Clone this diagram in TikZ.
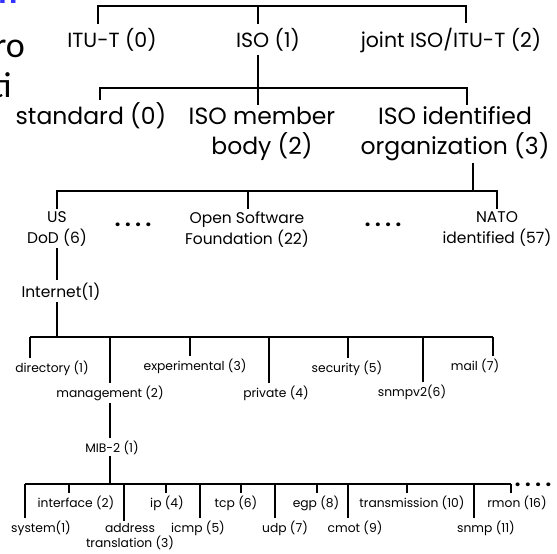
\documentclass[tikz,border=0pt]{standalone}
\usepackage{fontspec}
\setmainfont{Poppins}
\newfontfamily\slidefont{Carlito}
\newcommand{\fourdots}{.\kern4.6pt.\kern4.6pt.\kern4.6pt.}
\tikzset{
  wire/.style={line width=1.1pt},
  lvone/.style={font=\fontsize{20.5}{24}\selectfont, inner sep=4pt},
  lvtwo/.style={font=\fontsize{23.5}{30}\selectfont, inner sep=2pt, align=center},
  lvthree/.style={font=\fontsize{15.5}{21}\selectfont, inner sep=2pt, align=center},
  leaf/.style={font=\fontsize{12.3}{15}\selectfont, inner sep=2pt, align=center},
  dotrow/.style={font=\fontsize{20}{20}\selectfont\bfseries, inner sep=0pt}
}
\begin{document}
\begin{tikzpicture}[x=1pt,y=-1pt]
\path[use as bounding box, clip] (0,0) rectangle (557,554);
% bits of the slide behind
\node[anchor=base west, inner sep=0pt, text=blue!80, font=\slidefont\fontsize{36}{40}\selectfont\bfseries] (frc) at (-2,4) {n};
\node[anchor=base east, inner sep=0pt, font=\slidefont\fontsize{36}{40}\selectfont] (fra) at (25,57) {ro};
\node[anchor=base east, inner sep=0pt, font=\slidefont\fontsize{36}{40}\selectfont] (frb) at (12,97) {ti};

% top level
\node[lvone, anchor=base] (itu) at (112,47) {ITU-T (0)};
\node[lvone, anchor=base] (iso) at (268,47) {ISO (1)};
\node[lvone, anchor=base] (joint) at (451,47) {joint ISO/ITU-T (2)};
\draw[wire] (98,0 |- itu.north) -- (98,6) -- (466,6) -- (466,0 |- joint.north);
\draw[wire] (258,6) -- (258,0 |- iso.north);

% under ISO
\node[lvtwo, anchor=base] (std) at (91,124) {standard (0)};
\node[lvtwo, anchor=north] (member) at (262,104.5) {ISO member\\body (2)};
\node[lvtwo, anchor=north] (idorg) at (455,104.5) {ISO identified\\organization (3)};
\draw[wire] (258,0 |- iso.south) -- (258,0 |- member.north);
\draw[wire] (100,0 |- std.north) -- (100,88) -- (467,88) -- (467,0 |- idorg.north);

% under identified organization
\node[lvthree, anchor=north] (usdod) at (57,209) {US\\DoD (6)};
\node[lvthree, anchor=north] (osf) at (247,209) {Open Software\\Foundation (22)};
\node[lvthree, anchor=north] (nato) at (497,209) {NATO\\identified (57)};
\node[dotrow] (gapa) at (133,225) {\fourdots};
\node[dotrow] (gapb) at (383,225) {\fourdots};
\draw[wire] (473,0 |- idorg.south) -- (473,191);
\draw[wire] (57,0 |- usdod.north) -- (57,191) -- (497,191) -- (497,0 |- nato.north);
\draw[wire] (248,191) -- (248,0 |- osf.north);

\node[lvthree, anchor=base] (inet) at (61,297) {Internet(1)};
\draw[wire] (57,0 |- usdod.south) -- (57,0 |- inet.north);

% under Internet
\node[leaf, anchor=base] (dir) at (52,372) {directory (1)};
\node[leaf, anchor=base] (mgmt) at (110,397) {management (2)};
\node[leaf, anchor=base] (exp) at (195,370) {experimental (3)};
\node[leaf, anchor=base] (priv) at (276,397) {private (4)};
\node[leaf, anchor=base] (sec) at (347,372) {security (5)};
\node[leaf, anchor=base] (snmpv) at (412,396) {snmpv2(6)};
\node[leaf, anchor=base] (mail) at (475,370) {mail (7)};
\draw[wire] (57,0 |- inet.south) -- (57,337);
\draw[wire] (30,337) -- (493,337);
\foreach \n/\x in {dir/30,mgmt/110,exp/190,priv/269,sec/348,snmpv/423,mail/493}
{
    \draw[wire] (\x,337) -- (\x,0 |- \n.north);
}

\node[leaf, anchor=base] (mib) at (112,452) {MIB-2 (1)};
\draw[wire] (110,0 |- mgmt.south) -- (110,0 |- mib.north);

% under MIB-2
\node[leaf, anchor=base] (sys) at (41,532) {system(1)};
\node[leaf, anchor=base] (iface) at (76,507) {interface (2)};
\node[leaf, anchor=north] (addr) at (130,521) {address\\translation (3)};
\node[leaf, anchor=base] (ip) at (167,507) {ip (4)};
\node[leaf, anchor=base] (icmp) at (198,532) {icmp (5)};
\node[leaf, anchor=base] (tcp) at (236,507) {tcp (6)};
\node[leaf, anchor=base] (udp) at (285,532) {udp (7)};
\node[leaf, anchor=base] (egp) at (316,507) {egp (8)};
\node[leaf, anchor=base] (cmot) at (355,532) {cmot (9)};
\node[leaf, anchor=base] (trans) at (412,507) {transmission (10)};
\node[leaf, anchor=base] (snmp) at (486,532) {snmp (11)};
\node[leaf, anchor=base] (rmon) at (517,507) {rmon (16)};
\node[dotrow] (gapc) at (533,485) {\fourdots};
\draw[wire] (110,0 |- mib.south) -- (110,484);
\draw[wire] (25,484) -- (511,484);
\foreach \n/\x in {sys/25,iface/69,addr/124,ip/166,icmp/200,tcp/241,udp/275,egp/317,cmot/348,trans/407,snmp/474,rmon/511}
{
    \draw[wire] (\x,484) -- (\x,0 |- \n.north);
}
\end{tikzpicture}
\end{document}
